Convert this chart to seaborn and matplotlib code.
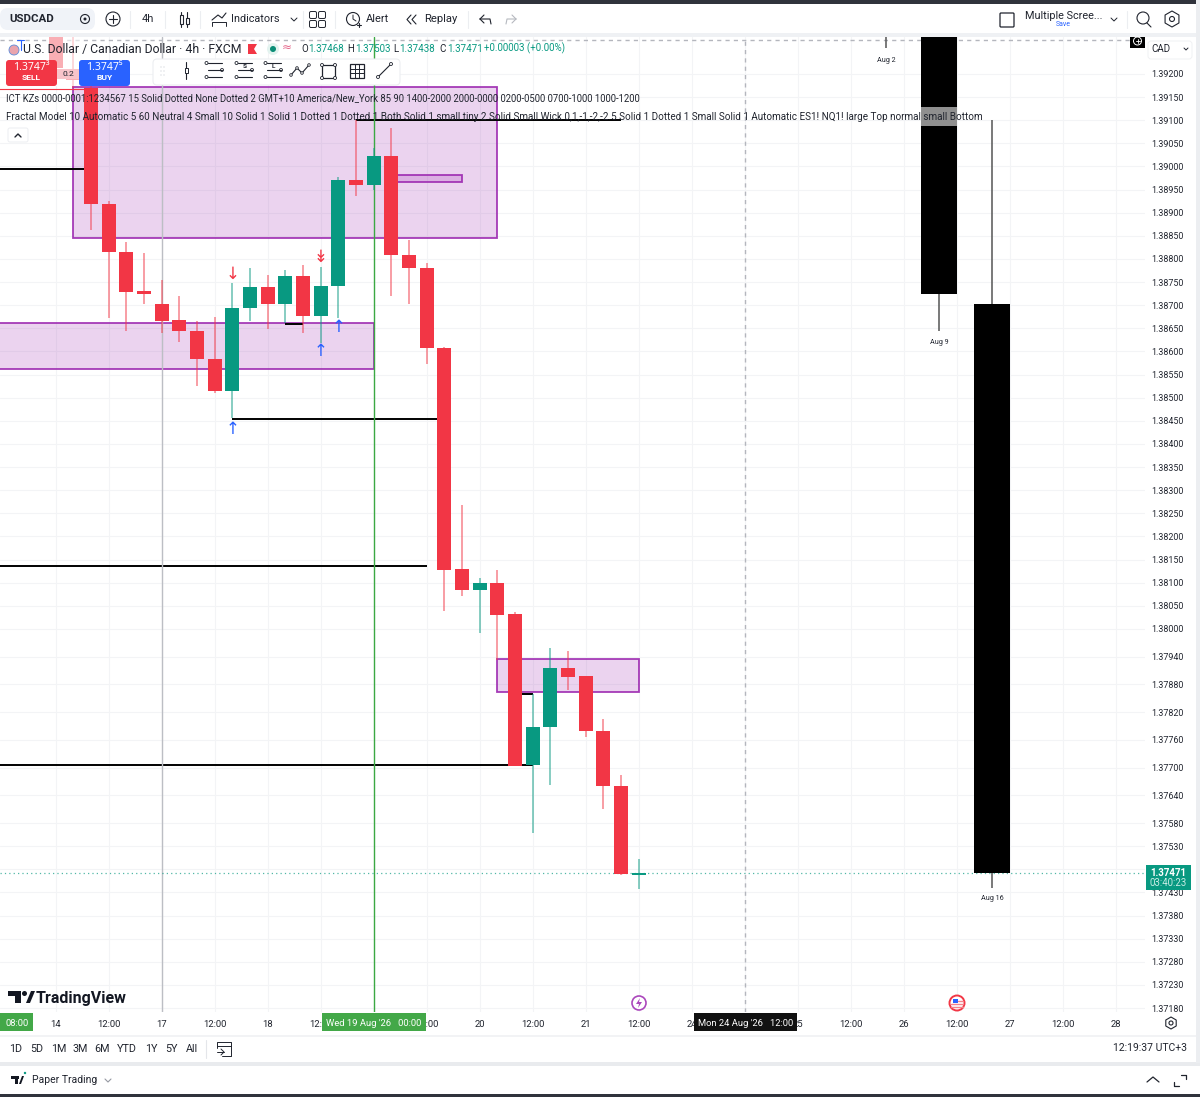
import numpy as np
import pandas as pd
import seaborn as sns
import matplotlib
matplotlib.use("Agg")
import matplotlib.pyplot as plt
from matplotlib.patches import Rectangle, Circle, FancyBboxPatch, Polygon

# ---------- data ----------
opens = [1.39280,1.39209,1.39170,1.38919,1.38815,1.38731,1.38703,1.38668,1.38644,1.38584,
         1.38514,1.38694,1.38739,1.38703,1.38763,1.38677,1.38742,1.38971,1.38960,1.39023,
         1.38809,1.38780,1.38607,1.38129,1.38084,1.38099,1.38032,1.37706,1.37788,1.37915,
         1.37898,1.37779,1.37660,1.37468]
highs = [1.39280,1.39280,1.39209,1.38925,1.38837,1.38813,1.38754,1.38720,1.38666,1.38674,
         1.38748,1.38780,1.38765,1.38776,1.38787,1.38783,1.38977,1.39101,1.39040,1.39083,
         1.38841,1.38791,1.38609,1.38268,1.38110,1.38127,1.38037,1.37859,1.37959,1.37952,
         1.37898,1.37805,1.37684,1.37503]
lows = [1.39205,1.39170,1.38863,1.38672,1.38644,1.38703,1.38640,1.38620,1.38525,1.38510,
        1.38456,1.38666,1.38649,1.38661,1.38640,1.38618,1.38672,1.38936,1.38949,1.38720,
        1.38703,1.38573,1.38039,1.38071,1.37991,1.37933,1.37703,1.37558,1.37662,1.37868,
        1.37766,1.37610,1.37468,1.37438]
closes = [1.39213,1.39187,1.38919,1.38815,1.38729,1.38724,1.38666,1.38644,1.38584,1.38514,
          1.38694,1.38739,1.38703,1.38763,1.38677,1.38742,1.38971,1.38960,1.39023,1.38809,
          1.38780,1.38607,1.38127,1.38084,1.38099,1.38030,1.37703,1.37788,1.37915,1.37896,
          1.37779,1.37660,1.37470,1.37471]

htf_x = [50, 53]
htf_top = [1.39300, 1.38703]
htf_bottom = [1.38724, 1.37472]
htf_high = [1.39300, 1.39101]
htf_low = [1.38644, 1.37440]
htf_labels = ["Aug 9", "Aug 16"]
htf_label_y = [1.38620, 1.37416]

price_ticks = [1.39200,1.39150,1.39100,1.39050,1.39000,1.38950,1.38900,1.38850,1.38800,1.38750,
               1.38700,1.38650,1.38600,1.38550,1.38500,1.38450,1.38400,1.38350,1.38300,1.38250,
               1.38200,1.38150,1.38100,1.38050,1.38000,1.37940,1.37880,1.37820,1.37760,1.37700,
               1.37640,1.37580,1.37530,1.37480,1.37430,1.37380,1.37330,1.37280,1.37230,1.37180]
time_ticks = [0,3,6,9,12,15,18,21,24,27,30,33,36,39,42,45,48,51,54,57,60]
time_labels = ["14","12:00","17","12:00","18","12:00","19","12:00","20","12:00","21","12:00",
               "24","12:00","25","12:00","26","12:00","27","12:00","28"]

zones = [(1, 25, 1.38845, 1.39172), (-4, 18, 1.38562, 1.38661), (25, 33, 1.37863, 1.37935), (19, 23, 1.38966, 1.38982)]
levels = [(1.38994, -4, 1.7), (1.38454, 10, 22), (1.38136, -4, 21), (1.37706, -4, 27),
          (1.38659, 13, 14), (1.37859, 26, 27), (1.39101, 17, 32)]
arrows = [(10, 1.38432, "↑", "#2962ff"), (15, 1.38601, "↑", "#2962ff"), (16, 1.38653, "↑", "#2962ff"),
          (10, 1.38767, "↓", "#f23645"), (15, 1.38804, "↡", "#f23645")]

RED, GREEN, PURPLE = "#f23645", "#089981", "#9c27b0"
INK = "#20242e"

sns.set_theme(style="white")
FONT = ["Roboto", "Noto Sans", "DejaVu Sans"]
plt.rcParams["font.family"] = FONT
plt.rcParams["axes.unicode_minus"] = False

W, H = 1200, 1097
fig = plt.figure(figsize=(W/100, H/100), dpi=100, facecolor="white")
ax = fig.add_axes([0, 1-1012/H, 1145/W, 975/H], facecolor="white")

df = pd.DataFrame({"i": np.arange(len(opens)), "o": opens, "h": highs, "l": lows, "c": closes})
df["up"] = df.c >= df.o
df["bot"] = df[["o", "c"]].min(axis=1)
df["size"] = (df.c - df.o).abs()

# zones & levels
for x0, x1, y0, y1 in zones:
    ax.add_patch(Rectangle((x0, y0), x1-x0, y1-y0, fc=PURPLE, alpha=0.2, ec="none", zorder=1))
    ax.add_patch(Rectangle((x0, y0), x1-x0, y1-y0, fc="none", ec=PURPLE, lw=1.3, alpha=.9, zorder=1.2))
for y, x0, x1 in levels:
    ax.hlines(y, x0, x1, color="black", lw=1.4, zorder=1.5)
ax.hlines(1.39168, -4, 1.6, color=RED, lw=.8, zorder=1.5)

ax.axvline(6, color="#bcbec4", lw=1.0, zorder=2)
ax.axvline(18, color="#3ba843", lw=1.0, zorder=2)
ax.axvline(39, color="#b4b6bd", lw=1.0, ls=(0, (3, 3)), zorder=2)
ax.axhline(1.39274, color="#b4b6bd", lw=1.0, ls=(0, (3, 3)), zorder=2)
ax.axhline(1.37471, color=GREEN, lw=.9, ls=(0, (1, 2.5)), alpha=.7, zorder=2)

# candles
ax.vlines(df.i, df.l, df.h, colors=[GREEN if u else RED for u in df.up], lw=1.1, alpha=.62, zorder=3)
for flag, col in [(True, GREEN), (False, RED)]:
    sub = df[df.up == flag]
    sns.barplot(x=sub.i.values, y=sub["size"].values, bottom=sub.bot.values, native_scale=True,
                color=col, saturation=1, width=0.8, linewidth=0, errorbar=None, ax=ax, zorder=4)

# higher-timeframe candles
ax.vlines(htf_x, htf_low, htf_high, colors="#555555", lw=1.1, zorder=3)
sns.barplot(x=htf_x, y=np.array(htf_top)-np.array(htf_bottom), bottom=htf_bottom, native_scale=True,
            color="black", saturation=1, width=2/3, linewidth=0, errorbar=None, ax=ax, zorder=4)
ax.vlines(47, 1.39256, 1.39300, colors="#555555", lw=1.1, zorder=3)
for x, y, s in zip(htf_x + [47], htf_label_y + [1.39230], htf_labels + ["Aug 2"]):
    ax.text(x, y, s, ha="center", va="center", fontsize=5.2, color=INK, zorder=6)

for x, y, s, c in arrows:
    ax.text(x, y, s, ha="center", va="center", fontsize=12, color=c, zorder=6, family=["DejaVu Sans"])

ax.set_xlim(-3.153, 61.66)
ax.set_ylim(1.371714, 1.392800)
ax.set_yticks(price_ticks)
ax.set_yticklabels([f"{p:.5f}" for p in price_ticks])
ax.set_xticks(time_ticks)
ax.set_xticklabels(time_labels)
ax.yaxis.tick_right()
ax.tick_params(axis="y", length=0, pad=4.8, labelsize=6.4, labelcolor=INK)
ax.tick_params(axis="x", length=0, pad=6, labelsize=6.8, labelcolor=INK)
ax.set_xlabel(""); ax.set_ylabel("")
ax.grid(True, color="#f3f4f6", lw=.8)
ax.set_axisbelow(True)
for s in ax.spines.values():
    s.set_visible(False)

# ---------- interface, in pixel space ----------
ui = fig.add_axes([0, 0, 1, 1], facecolor="none")
ui.set_xlim(0, W); ui.set_ylim(H, 0); ui.axis("off")

def T(x, y, s, px=11, c=INK, ha="left", w="normal", fam=None, z=20):
    ui.text(x, y, s, fontsize=px*.72, color=c, ha=ha, va="center", fontweight=w,
            family=fam or FONT, zorder=z)
def R(x0, y0, x1, y1, c, a=1, z=5, ec="none", lw=0):
    ui.add_patch(Rectangle((x0, y0), x1-x0, y1-y0, fc=c, ec=ec, lw=lw, alpha=a, zorder=z))
def RR(x0, y0, x1, y1, c, r=3, z=6, ec="none", lw=0):
    ui.add_patch(FancyBboxPatch((x0+r, y0+r), x1-x0-2*r, y1-y0-2*r, boxstyle=f"round,pad={r}",
                                fc=c, ec=ec, lw=lw, zorder=z))
def L(xs, ys, c=INK, lw=.8, z=21):
    ui.plot(xs, ys, color=c, lw=lw, zorder=z, solid_capstyle="round")
def C(x, y, r, fc="none", ec=INK, lw=.8, z=21):
    ui.add_patch(Circle((x, y), r, fc=fc, ec=ec, lw=lw, zorder=z))

# frame
R(0, 0, W, 4, "#30333c")
R(0, 4, W, 33, "white")
R(0, 33, W, 37, "#eff1f4")
R(1196, 0, W, 1063, "#eceef1", z=6)
R(0, 1035, W, 1037, "#f2f3f5")
R(0, 1037, W, 1062, "white")
R(0, 1062, W, 1066, "#e9ebee")
R(0, 1066, W, 1094, "white")
R(0, 1094, W, H, "#30333c", z=7)

# top toolbar
RR(0, 8, 95, 30, "#f0f3f8", r=8)
T(9, 18.5, "USDCAD", 11.5, w="bold")
C(85, 19, 4.5); C(85, 19, 1.5, fc=INK, lw=0)
C(113, 19, 7); L([109, 117], [19, 19]); L([113, 113], [15, 23])
T(148, 19.5, "4h", 11, ha="center")
for x in (181, 187):
    L([x, x], [12, 27], lw=.8)
ui.add_patch(Rectangle((179.5, 15), 3, 9, fc="white", ec=INK, lw=.8, zorder=22))
ui.add_patch(Rectangle((185.5, 18), 3, 6, fc="white", ec=INK, lw=.8, zorder=22))
L([212, 218, 222, 226], [20, 15, 18, 13]); L([212, 212, 226, 226], [26, 22, 22, 26], lw=.7)
T(231, 19.5, "Indicators", 10.9)
L([291, 294, 297], [18, 21, 18], lw=.7)
for cx, cy in [(313, 15), (322, 15), (313, 24), (322, 24)]:
    ui.add_patch(FancyBboxPatch((cx-2, cy-2), 4, 4, boxstyle="round,pad=1.5", fc="white", ec=INK, lw=.7, zorder=21))
C(353, 19, 6.5); L([353, 353, 356], [15, 19, 21], lw=.7); L([357, 361], [25, 25], lw=.8); L([359, 359], [23, 27], lw=.8)
T(366, 19.5, "Alert", 11)
L([411, 407, 411], [15, 19.5, 24]); L([416, 412, 416], [15, 19.5, 24])
T(424, 19.5, "Replay", 11.2)
L([480, 484], [19, 15]); L([480, 484], [19, 23]); L([480, 490, 491], [19, 19, 24])
L([516, 512], [19, 15], c="#b6b9c0"); L([516, 512], [19, 23], c="#b6b9c0"); L([516, 507, 506], [19, 19, 24], c="#b6b9c0")
for x in (130, 165, 200, 303, 335, 468, 1127):
    L([x, x], [11, 28], c="#eceef1", lw=.8)
ui.add_patch(FancyBboxPatch((1001, 14), 12, 12, boxstyle="round,pad=1", fc="white", ec=INK, lw=.9, zorder=21))
T(1025, 16, "Multiple Scree...", 10.9)
T(1063, 25, "Save", 7, c="#2962ff", ha="center")
L([1111, 1114, 1117], [18, 21, 18], lw=.7)
C(1143, 18, 6); L([1147, 1151], [23, 27], lw=.8)
ui.add_patch(Polygon([(1172+8*np.cos(a), 19+8*np.sin(a)) for a in np.arange(6)*np.pi/3+np.pi/6], closed=True,
                     fc="white", ec=INK, lw=.8, zorder=21))
C(1172, 19, 2.5)

# legend lines
R(46, 37, 81, 86, "white", a=.6, z=3)
C(14, 50, 5, fc="#e9a4ad", ec="#5b8bd9", lw=.6)
L([17, 24], [40, 40], c="#2962ff"); L([20.5, 20.5], [40, 50], c="#2962ff")
T(23, 49, "U.S. Dollar / Canadian Dollar · 4h · FXCM", 12.2)
ui.add_patch(Polygon([(248, 44), (257, 44), (254, 49), (257, 54), (248, 54)], fc=RED, ec="none", zorder=21))
C(273, 49, 6, fc="#e3f3ef", ec="none"); C(273, 49, 3, fc="#0b8d76", ec="none")
T(287, 48, "≈", 12, c="#e5668a", ha="center", fam=["DejaVu Sans"])
for lx, ls, vx, vs in [(301, "O", 308, "1.37468"), (347, "H", 355, "1.37503"), (393, "L", 399, "1.37438"), (439, "C", 447, "1.37471")]:
    T(lx, 48.5, ls, 9.8)
    T(vx, 48.5, vs, 9.8, c=GREEN)
T(484, 48.5, "+0.00003 (+0.00%)", 9.8, c=GREEN)

RR(6, 60, 57, 86, RED, r=3)
T(31.5, 68, "1.3747³", 10.5, c="white", ha="center", w="bold", fam=["Noto Sans", "DejaVu Sans"])
T(31.5, 78, "SELL", 8.5, c="white", ha="center", w="bold")
R(57, 69, 79, 79, "#f9c4ca", z=5.5)
T(68, 73.5, "0.2", 8.5, ha="center")
RR(79, 60, 130, 86, "#2962ff", r=3)
T(104.5, 68, "1.3747⁵", 10.5, c="white", ha="center", w="bold", fam=["Noto Sans", "DejaVu Sans"])
T(104.5, 78, "BUY", 8.5, c="white", ha="center", w="bold")

# drawing tools
RR(153, 59, 400, 85, "white", r=4, ec="#eceef1", lw=.8)
for x in (161, 164):
    for y in (67, 71, 75):
        C(x, y, .5, fc="#b8bbc3", ec="none")
L([186, 186], [62, 79]); ui.add_patch(Rectangle((184.5, 68), 3, 5, fc="white", ec=INK, lw=.7, zorder=22))
for x0, labs in [(205, ""), (235, "S"), (264, "L")]:
    for y in (63, 70, 77):
        L([x0+3, x0+17], [y, y], lw=.8)
    C(x0+1.5, 63, 1.5, lw=.6); C(x0+1.5, 77, 1.5, lw=.6); C(x0+17, 70, 1.5, lw=.6)
    if labs:
        T(x0+9.5, 67, labs, 6.5, ha="center", w="bold")
L([291, 297, 302, 309], [75, 68, 73, 65])
for px_, py_ in [(291, 75), (297, 68), (302, 73), (309, 65)]:
    C(px_, py_, 1.3, fc="white", lw=.6)
ui.add_patch(Rectangle((322, 65), 13, 13, fc="none", ec=INK, lw=.9, zorder=21))
for px_, py_ in [(322, 65), (335, 65), (322, 78), (335, 78)]:
    C(px_, py_, 1.5, fc="white", lw=.6)
ui.add_patch(Rectangle((350, 64), 14, 14, fc="none", ec=INK, lw=.9, zorder=21))
for v in (354.5, 359):
    L([v, v], [64, 78], lw=.7)
for v in (68.5, 73):
    L([350, 364], [v, v], lw=.7)
L([378, 391], [77, 64]); C(378, 77, 1.5, fc="white", lw=.6); C(391, 64, 1.5, fc="white", lw=.6)

# indicator lines
R(921, 107, 957, 126, "#8f8f8f", z=4)
T(6, 98, "ICT KZs 0000-0001:1234567 15 Solid Dotted None Dotted 2 GMT+10 America/New_York 85 90 1400-2000 2000-0000 0200-0500 0700-1000 1000-1200", 9.55)
T(6, 117, "Fractal Model 10 Automatic 5 60 Neutral 4 Small 10 Solid 1 Solid 1 Dotted 1 Dotted 1 Both Solid 1 small tiny 2 Solid Small Wick 0,1,-1,-2,-2.5 Solid 1 Dotted 1 Small Solid 1 Automatic ES1! NQ1! large Top normal small Bottom", 9.93)
RR(8, 128, 28, 142, "white", r=2, ec="#eceef1", lw=.7)
L([15, 18, 21], [137, 134, 137], lw=1)

# plus and currency
R(1130, 37, 1145, 48, "black", z=8)
C(1137.5, 41, 4, ec="white", lw=.7)
L([1135.5, 1139.5], [41, 41], c="white", lw=.6); L([1137.5, 1137.5], [39, 43], c="white", lw=.6)
RR(1148, 41, 1192, 59, "white", r=3, ec="#f0f1f3", lw=.7)
T(1151, 49.5, "CAD", 9.8)
L([1184, 1186, 1188], [48, 50, 48], lw=.7)

# last price tag
R(1146, 865, 1191, 890, GREEN, z=9)
T(1168.5, 872.5, "1.37471", 9.8, c="white", ha="center", w="bold")
T(1168.5, 883.5, "03:40:23", 9.6, c="#c9ece5", ha="center")

# watermark
R(8, 991, 21, 996, "#131722", z=8); R(15, 991, 21, 1003, "#131722", z=8)
C(24.5, 993.5, 2.5, fc="#131722", ec="none")
ui.add_patch(Polygon([(26, 1003), (31, 991), (35, 991), (30, 1003)], fc="#131722", ec="none", zorder=21))
T(36, 998, "TradingView", 16, c="#131722", w="bold", fam=["Roboto", "DejaVu Sans"])

# event badges
C(639, 1003, 7, fc="white", ec="#ab47bc", lw=1.2)
ui.add_patch(Polygon([(640, 998), (636, 1004), (639, 1004), (638, 1008), (642, 1002), (639, 1002)], fc="#ab47bc", ec="none", zorder=22))
C(957, 1003, 7.5, fc="white", ec=RED, lw=1.4)
R(953, 999, 958, 1003, "#2962ff", z=22)
for y in (1001, 1004, 1007):
    L([951 if y > 1002 else 958, 963], [y, y], c="#f4838c", lw=1, z=22)

# time labels
R(0, 1013, 33, 1031, "#43a848", z=8)
T(17, 1023, "08:00", 9.4, c="white", ha="center")
R(322, 1013, 426, 1031, "#43a848", z=8)
T(374, 1023, "Wed 19 Aug '26   00:00", 9.4, c="white", ha="center")
R(694, 1013, 797, 1031, "#111111", z=8)
T(745.5, 1023, "Mon 24 Aug '26   12:00", 9.4, c="white", ha="center")
ui.add_patch(Polygon([(1171+6*np.cos(a), 1023+6*np.sin(a)) for a in np.arange(6)*np.pi/3+np.pi/6], closed=True,
                     fc="white", ec=INK, lw=.8, zorder=21))
C(1171, 1023, 2)

# range row
for x, s in [(15.5, "1D"), (36.5, "5D"), (58.5, "1M"), (80, "3M"), (102, "6M"), (126.5, "YTD"), (151, "1Y"), (171.5, "5Y"), (192, "All")]:
    T(x, 1049, s, 10.8, ha="center")
L([206, 206], [1040, 1058], c="#e4e6ea", lw=.8)
L([217, 217, 231, 231, 222], [1048, 1042, 1042, 1056, 1056], lw=.7)
L([217, 231], [1046, 1046], lw=.7); L([217, 224], [1052, 1052], lw=.7); L([221, 224, 221], [1049, 1052, 1055], lw=.7)
T(1187, 1048, "12:19:37 UTC+3", 10.4, ha="right")

# footer
R(11, 1076, 19, 1078.5, "#131722", z=8); R(15, 1076, 18, 1084, "#131722", z=8)
ui.add_patch(Polygon([(19, 1084), (22, 1076), (24, 1076), (21, 1084)], fc="#131722", ec="none", zorder=21))
C(25, 1073, 1.2, fc=GREEN, ec="none")
T(32, 1080, "Paper Trading", 10.4)
L([105, 108, 111], [1079, 1082, 1079], c="#9598a1", lw=.8)
L([1147, 1153, 1159], [1082, 1077, 1082], lw=.9)
L([1174, 1174, 1179], [1082, 1086, 1086], lw=.9); L([1181, 1186, 1186], [1075, 1075, 1079], lw=.9)

fig.savefig("out.png", dpi=100)
